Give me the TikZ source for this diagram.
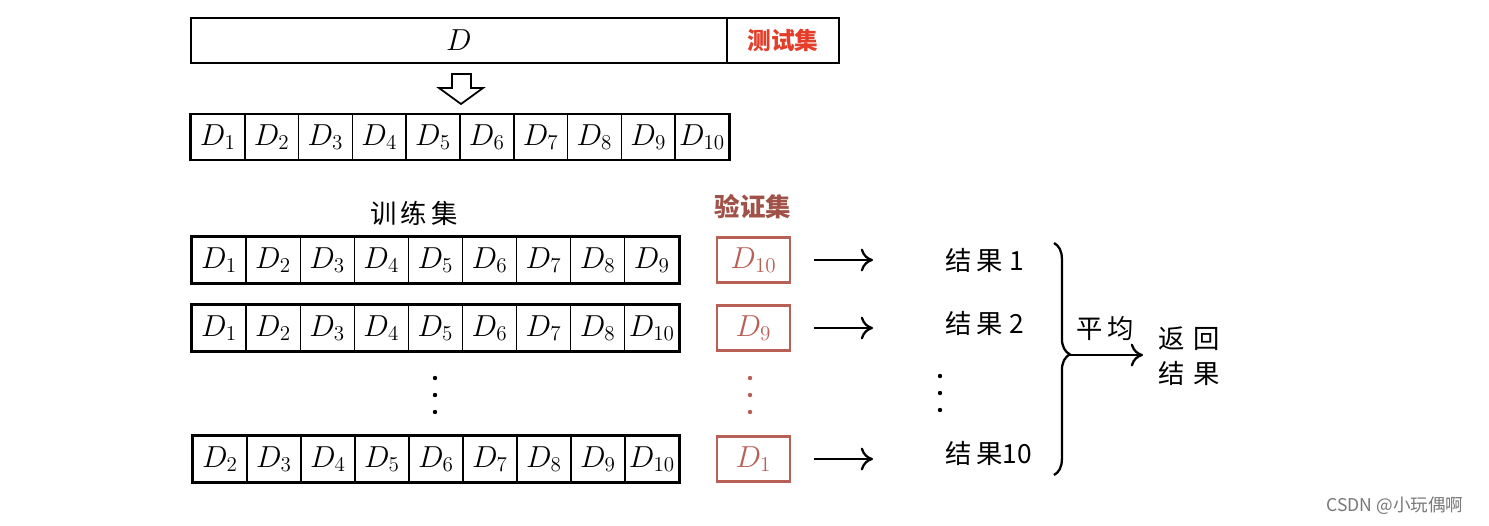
\documentclass[tikz,border=0pt]{standalone}
\usepackage{fontspec}
\newfontfamily\cjk{Noto Sans CJK SC}
\usetikzlibrary{arrows.meta,decorations.pathreplacing}

\definecolor{testred}{RGB}{228,62,42}
\definecolor{valred}{RGB}{160,82,72}
\definecolor{valbox}{RGB}{184,96,86}
\definecolor{markgray}{RGB}{120,120,120}

\tikzset{
  cell/.style={draw,line width=0.7pt,inner sep=0pt,minimum width=1.08cm,minimum height=0.9cm,font=\fontsize{18}{21}\selectfont},
  valcell/.style={cell,draw=valbox,line width=1.3pt,text=valbox,minimum width=1.46cm},
  rowframe/.style={draw,line width=1.5pt},
  arr/.style={line width=1.3pt,-{Computer Modern Rightarrow[length=7pt,width=13pt]}},
  cjklabel/.style={font=\cjk\fontsize{15}{17}\selectfont},
}

\begin{document}
\begin{tikzpicture}[x=0.02cm,y=-0.02cm]
\useasboundingbox[fill=white] (0,0) rectangle (1489,525);

% the whole set and the test part
\node[cell,line width=1pt,minimum width=10.72cm,font=\fontsize{19}{22}\selectfont] (whole) at (459,40.5) {$D$};
\node[cell,line width=1pt,minimum width=2.24cm,font=\cjk\bfseries\fontsize{13.5}{15}\selectfont,text=testred] (test) at (783,40.5) {测试集};

% hollow arrow
\draw[line width=1pt] (452,74) -- (471,74) -- (471,88) -- (483,88) -- (461,104) -- (439,88) -- (452,88) -- cycle;

% ten folds
\foreach \i in {1,...,10}
  \node[cell] (f\i) at ({191+(\i-0.5)*53.8},137) {$D_{\i}$};
\draw[rowframe] (f1.north west) rectangle (f10.south east);

% labels
\node[cjklabel] (trainlab) at (414,213) {训\,练\,集};
\node[cjklabel,font=\cjk\bfseries\fontsize{14.5}{16}\selectfont,text=valred] (vallab) at (753,207) {验证集};

% training rows
\foreach \lab [count=\j] in {1,...,9}
  \node[cell,minimum height=0.92cm] (a\j) at ({192+(\j-0.5)*54.1},260) {$D_{\lab}$};
\draw[rowframe] (a1.north west) rectangle (a9.south east);
\foreach \lab [count=\j] in {1,2,3,4,5,6,7,8,10}
  \node[cell,minimum height=0.92cm] (b\j) at ({192+(\j-0.5)*54.1},328) {$D_{\lab}$};
\draw[rowframe] (b1.north west) rectangle (b9.south east);
\foreach \lab [count=\j] in {2,...,10}
  \node[cell,minimum height=0.92cm] (c\j) at ({193+(\j-0.5)*54},459) {$D_{\lab}$};
\draw[rowframe] (c1.north west) rectangle (c9.south east);

% validation folds
\node[valcell] (v1) at (753.5,260) {$D_{10}$};
\node[valcell] (v2) at (753.5,328) {$D_{9}$};
\node[valcell] (v3) at (753.5,459) {$D_{1}$};

% dots
\foreach \y in {378,395,412} {
  \fill (435,\y) circle (2.2);
  \fill[valbox] (750,\y) circle (2.2);
  \fill (940,\y-2) circle (2.2);
}

% results
\node[cjklabel,anchor=west,inner sep=0pt] (r1) at (945,260) {结\,果\;1};
\node[cjklabel,anchor=west,inner sep=0pt] (r2) at (945,323) {结\,果\;2};
\node[cjklabel,anchor=west,inner sep=0pt] (r3) at (945,453) {结\,果10};

\draw[arr,shorten <=0.46cm,shorten >=1.44cm] (v1.east) -- (r1.west |- v1.east);
\draw[arr,shorten <=0.46cm,shorten >=1.44cm] (v2.east) -- (r2.west |- v2.east);
\draw[arr,shorten <=0.46cm,shorten >=1.44cm] (v3.east) -- (r3.west |- v3.east);

% brace and average
\draw[line width=1.3pt,decorate,decoration={brace,amplitude=9pt,aspect=0.48}] (1054,243) -- (1054,475);
\coordinate (tip) at (1070,355);
\node[cjklabel,anchor=west,align=left,inner sep=0pt] (ret) at (1158,356) {返\,\,回\\[3pt]结\,\,果};
\node[cjklabel] (avg) at (1105,329) {平\,均};
\draw[arr,shorten >=0.3cm] (tip) -- (ret.west |- tip);

% watermark
\node[font=\cjk\fontsize{10}{12}\selectfont,text=markgray] (mark) at (1395,506) {CSDN @小玩偶啊};
\end{tikzpicture}
\end{document}
